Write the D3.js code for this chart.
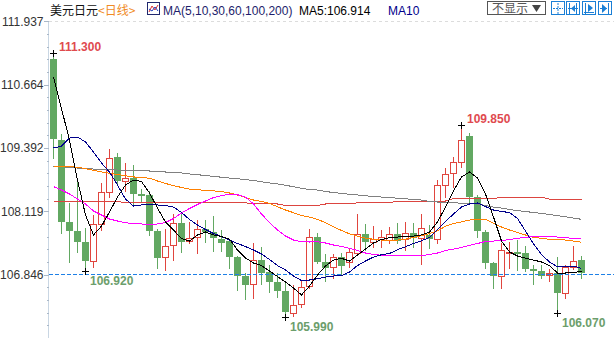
<!DOCTYPE html>
<html><head><meta charset="utf-8">
<script src="https://cdn.jsdelivr.net/npm/d3@7"></script>
<style>html,body{margin:0;padding:0;background:#fff;overflow:hidden}</style>
</head><body><svg id="c" width="614" height="338"></svg>
<script>
// ---- data ----
const categories = d3.range(67).map(i => "D" + (i + 1));
const open = [111.177,109.549,107.907,107.726,107.505,107.123,107.861,108.498,109.213,108.731,
 108.779,108.458,108.444,107.720,107.191,107.433,107.875,107.519,107.593,107.760,
 107.706,107.565,107.519,107.203,106.821,106.649,107.137,106.890,106.701,106.514,
 106.078,106.247,106.614,107.605,107.103,106.990,107.197,107.103,107.284,107.660,
 107.493,107.553,107.539,107.654,107.553,107.674,107.585,107.640,107.553,108.645,
 108.880,109.113,109.629,108.397,107.700,107.071,106.821,107.272,107.298,107.272,
 106.950,106.916,106.842,106.870,106.480,107.002,107.131];
const high = [111.300,109.664,108.277,108.711,107.774,108.042,108.679,109.368,109.282,109.081,
 109.047,108.558,108.530,107.760,107.760,108.062,108.062,107.907,107.941,107.941,
 108.021,107.740,107.539,107.210,106.870,107.473,107.392,107.037,106.870,106.695,
 106.635,106.735,107.754,107.674,107.258,107.258,107.284,107.352,108.056,107.861,
 107.820,107.740,107.806,107.875,107.907,107.875,108.062,107.841,108.745,108.980,
 109.213,109.850,109.684,108.444,107.740,107.103,107.473,107.505,107.539,107.418,
 107.037,107.037,106.950,107.203,107.037,107.418,107.217];
const low = [109.187,107.690,107.103,107.304,106.920,107.002,107.740,108.409,108.665,108.524,
 108.263,108.303,107.640,106.970,106.930,107.137,107.304,107.473,107.272,107.505,
 107.324,107.324,106.970,106.534,106.347,106.379,106.655,106.500,106.399,105.990,
 106.020,106.198,106.568,107.077,106.721,106.769,106.836,107.002,107.258,107.338,
 107.404,107.404,107.473,107.473,107.338,107.398,107.057,107.372,107.485,108.409,
 108.610,109.012,108.277,107.605,106.970,106.568,106.568,106.970,106.936,106.922,
 106.655,106.769,106.721,106.070,106.367,106.950,106.781];
const close = [109.563,107.907,107.726,107.505,107.123,107.861,108.498,109.181,108.731,108.779,
 108.458,108.433,107.726,107.183,107.412,107.875,107.505,107.573,107.760,107.706,
 107.573,107.473,107.203,106.821,106.635,107.137,106.870,106.701,106.514,106.102,
 106.233,106.588,107.605,107.103,106.982,107.197,107.022,107.292,107.654,107.493,
 107.553,107.605,107.654,107.519,107.674,107.573,107.774,107.553,108.639,108.860,
 109.101,109.543,108.397,107.726,107.083,106.821,107.338,107.298,107.272,106.956,
 106.916,106.821,106.870,106.480,106.990,107.123,106.870];
const ma5 = [110.821,110.178,109.549,108.745,108.042,107.640,107.820,108.102,108.403,108.645,
 108.745,108.715,108.484,108.182,107.901,107.740,107.569,107.519,107.640,107.700,
 107.640,107.609,107.559,107.338,107.177,107.077,107.026,106.916,106.805,106.695,
 106.574,106.434,106.614,106.836,107.016,107.137,107.171,107.117,107.238,107.358,
 107.479,107.549,107.589,107.599,107.609,107.619,107.640,107.700,107.901,108.202,
 108.524,108.805,108.906,108.785,108.464,108.001,107.519,107.298,107.217,107.177,
 107.137,107.097,107.026,106.876,106.876,106.882,106.914];
const ma10 = [109.388,109.428,109.589,109.609,109.509,109.308,109.087,108.906,108.645,108.363,
 108.222,108.243,108.243,108.243,108.232,108.202,108.092,107.951,107.841,107.750,
 107.670,107.609,107.539,107.469,107.408,107.338,107.258,107.147,107.026,106.936,
 106.815,106.725,106.735,106.761,106.795,106.815,106.821,106.896,107.026,107.117,
 107.197,107.244,107.268,107.344,107.404,107.469,107.525,107.589,107.750,107.911,
 108.062,108.202,108.263,108.283,108.212,108.142,108.112,108.092,107.971,107.720,
 107.459,107.248,107.097,107.002,107.016,107.016,106.966];
const ma30 = [108.614,108.544,108.464,108.363,108.263,108.122,108.042,107.961,107.921,107.885,
 107.871,107.861,107.851,107.861,107.891,107.971,108.082,108.172,108.253,108.323,
 108.393,108.433,108.458,108.450,108.403,108.263,108.062,107.891,107.740,107.619,
 107.539,107.503,107.499,107.503,107.479,107.439,107.408,107.372,107.328,107.278,
 107.248,107.232,107.223,107.223,107.223,107.223,107.227,107.248,107.278,107.328,
 107.358,107.388,107.433,107.469,107.509,107.519,107.529,107.549,107.573,107.595,
 107.605,107.605,107.605,107.599,107.585,107.573,107.559];
const ma60 = [109.016,109.016,109.012,109.002,108.972,108.940,108.908,108.880,108.856,108.831,
 108.807,108.795,108.781,108.725,108.677,108.630,108.596,108.560,108.550,108.538,
 108.526,108.514,108.484,108.444,108.395,108.343,108.315,108.273,108.208,108.142,
 108.088,108.031,108.001,107.955,107.887,107.806,107.730,107.664,107.619,107.579,
 107.553,107.539,107.539,107.539,107.555,107.589,107.625,107.670,107.724,107.814,
 107.871,107.905,107.941,107.961,107.961,107.875,107.800,107.740,107.690,107.640,
 107.593,107.573,107.553,107.547,107.539,107.519,107.493];
const ma100 = [109.026,109.012,109.000,108.986,108.976,108.966,108.960,108.952,108.946,108.940,
 108.934,108.930,108.926,108.916,108.906,108.896,108.886,108.866,108.852,108.835,
 108.819,108.801,108.785,108.771,108.755,108.735,108.709,108.685,108.665,108.639,
 108.610,108.578,108.554,108.544,108.514,108.494,108.474,108.458,108.444,108.429,
 108.413,108.403,108.393,108.379,108.367,108.353,108.343,108.313,108.303,108.293,
 108.287,108.279,108.273,108.263,108.232,108.202,108.182,108.152,108.132,108.112,
 108.092,108.072,108.052,108.027,108.007,107.981,107.955];
const ma200 = [108.313,108.313,108.313,108.313,108.313,108.313,108.313,108.313,108.313,108.289,
 108.289,108.289,108.289,108.289,108.289,108.289,108.289,108.289,108.289,108.289,
 108.289,108.289,108.289,108.289,108.289,108.263,108.263,108.263,108.263,108.232,
 108.232,108.232,108.232,108.232,108.263,108.263,108.263,108.263,108.289,108.289,
 108.289,108.289,108.289,108.323,108.323,108.323,108.323,108.323,108.323,108.323,
 108.373,108.373,108.373,108.373,108.373,108.373,108.397,108.397,108.397,108.397,
 108.397,108.397,108.363,108.363,108.363,108.363,108.363];
const yTicks = [111.937, 110.664, 109.392, 108.119, 106.846];
const lastPrice = 106.846;
const markHigh = [0, 51];
const markLow = [4, 29, 63];
const maNames = ["MA200","MA100","MA60","MA30","MA10","MA5"];
const maSeries = [ma200, ma100, ma60, ma30, ma10, ma5];
const maColors = ["#dc4540","#808080","#ff8000","#ff00ff","#00008b","#000000"];

// ---- drawing ----
const svg = d3.select("#c");
const x = d3.scaleLinear().domain([0, 66]).range([53, 581]);
const y = d3.scaleLinear().domain([106.846, 111.937]).range([274.5, 21.2]);
const UP = "#e0453e", DOWN = "#62a862";
const fmt = d3.format(".3f");
const latin = "'Liberation Sans', Arial, sans-serif";
const cjk = "'Noto Sans CJK SC', 'Liberation Sans', sans-serif";

// top dashed grid
svg.append("line").attr("x1", 49).attr("x2", 614).attr("y1", 21.5).attr("y2", 21.5)
  .attr("stroke", "#dcdcdc").attr("stroke-dasharray", "3,3");

// y axis
svg.append("line").attr("x1", 48.5).attr("x2", 48.5).attr("y1", 21).attr("y2", 338)
  .attr("stroke", "#c9d6e3");
const step = (yTicks[0] - yTicks[1]) / 5;
const minor = [];
for (let v = yTicks[0]; v > y.invert(338); v -= step) minor.push(v);
const gMinor = svg.append("g").attr("transform", "translate(48.5,0)")
  .call(d3.axisLeft(y).tickValues(minor).tickSize(2).tickFormat(""));
gMinor.select(".domain").remove();
gMinor.selectAll("line").attr("stroke", "#aab8c8").attr("shape-rendering", "crispEdges");
const gAxis = svg.append("g").attr("transform", "translate(48.5,0)")
  .call(d3.axisLeft(y).tickValues(yTicks).tickFormat(fmt).tickSize(5).tickPadding(0));
gAxis.select(".domain").remove();
gAxis.selectAll("line").attr("stroke", "#aab8c8").attr("shape-rendering", "crispEdges");
gAxis.selectAll("text").attr("font-family", latin).attr("font-size", 12).attr("fill", "#333");

// candles
const gC = svg.append("g");
categories.forEach((c, i) => {
  const cx = Math.round(x(i));
  const up = close[i] >= open[i];
  const yt = Math.round(y(Math.max(open[i], close[i])));
  const yb = Math.round(y(Math.min(open[i], close[i])));
  const yh = Math.round(y(high[i])), yl = Math.round(y(low[i]));
  const col = up ? UP : DOWN;
  if (up) {
    gC.append("line").attr("x1", cx + 0.5).attr("x2", cx + 0.5).attr("y1", yh).attr("y2", yt)
      .attr("stroke", col).attr("shape-rendering", "crispEdges");
    gC.append("line").attr("x1", cx + 0.5).attr("x2", cx + 0.5).attr("y1", Math.max(yb, yt + 1) + 1).attr("y2", yl + 1)
      .attr("stroke", col).attr("shape-rendering", "crispEdges");
    gC.append("rect").attr("x", cx - 2.5).attr("y", yt + 0.5).attr("width", 6)
      .attr("height", Math.max(1, yb - yt)).attr("fill", "#fff").attr("stroke", col)
      .attr("shape-rendering", "crispEdges");
  } else {
    gC.append("line").attr("x1", cx + 0.5).attr("x2", cx + 0.5).attr("y1", yh).attr("y2", yl + 1)
      .attr("stroke", col).attr("shape-rendering", "crispEdges");
    gC.append("rect").attr("x", cx - 3).attr("y", yt).attr("width", 7)
      .attr("height", Math.max(2, yb - yt)).attr("fill", col).attr("shape-rendering", "crispEdges");
  }
});

// last price dashed line
svg.append("line").attr("x1", 49).attr("x2", 614).attr("y1", Math.floor(y(lastPrice)) + 0.5)
  .attr("y2", Math.floor(y(lastPrice)) + 0.5).attr("stroke", "#1e80e6").attr("stroke-dasharray", "4,2");

// moving averages
const line = d3.line().x((d, i) => x(i) + 0.5).y(d => y(d));
maSeries.forEach((s, k) => {
  svg.append("path").datum(s).attr("d", line).attr("fill", "none")
    .attr("stroke", maColors[k]).attr("stroke-width", 1).attr("shape-rendering", "crispEdges")
    .attr("class", maNames[k]);
});

// high / low markers
function cross(cx, cy) {
  svg.append("line").attr("x1", cx - 3).attr("x2", cx + 4).attr("y1", cy + 0.5).attr("y2", cy + 0.5)
    .attr("stroke", "#000").attr("shape-rendering", "crispEdges");
  svg.append("line").attr("x1", cx + 0.5).attr("x2", cx + 0.5).attr("y1", cy - 3).attr("y2", cy + 4)
    .attr("stroke", "#000").attr("shape-rendering", "crispEdges");
}
markHigh.forEach(i => {
  const cx = Math.round(x(i)), cy = Math.round(y(high[i]));
  cross(cx, cy);
  svg.append("text").attr("x", cx + 6).attr("y", cy - 2.5).text(fmt(high[i]))
    .attr("font-family", latin).attr("font-size", 12).attr("font-weight", "bold").attr("fill", "#e04a4f");
});
markLow.forEach(i => {
  const cx = Math.round(x(i)), cy = Math.round(y(low[i]));
  cross(cx, cy);
  svg.append("text").attr("x", cx + 5).attr("y", cy + 14).text(fmt(low[i]))
    .attr("font-family", latin).attr("font-size", 12).attr("font-weight", "bold").attr("fill", "#6c9e6c");
});

// header
const t = svg.append("text").attr("x", 50).attr("y", 15).attr("font-family", cjk).attr("font-size", 12);
t.append("tspan").attr("fill", "#111").text("美元日元");
t.append("tspan").attr("fill", "#f08a24").text("<日线>");
// MA icon
const ic = svg.append("g");
ic.append("rect").attr("x", 147.5).attr("y", 2.5).attr("width", 12).attr("height", 12)
  .attr("fill", "#fff").attr("stroke", "#20286e");
ic.append("polyline").attr("points", "149,12 152,6 155,10 158,5").attr("fill", "none").attr("stroke", "#e03030");
ic.append("polyline").attr("points", "149,9 152,11 155,7 158,11").attr("fill", "none").attr("stroke", "#2040c0");
svg.append("text").attr("x", 163).attr("y", 15).attr("font-family", latin).attr("font-size", 12)
  .attr("fill", "#1d1d6b").text("MA(5,10,30,60,100,200)");
svg.append("text").attr("x", 299).attr("y", 15).attr("font-family", latin).attr("font-size", 12)
  .attr("fill", "#000").text("MA5:" + fmt(ma5[ma5.length - 1]));
svg.append("text").attr("x", 388).attr("y", 15).attr("font-family", latin).attr("font-size", 12)
  .attr("fill", "#00008b").text("MA10");

// toolbar buttons
svg.append("rect").attr("x", 487.5).attr("y", 1.5).attr("width", 58).attr("height", 13)
  .attr("fill", "#fff").attr("stroke", "#555");
svg.append("text").attr("x", 492).attr("y", 13).attr("font-family", cjk).attr("font-size", 12)
  .attr("fill", "#555").text("不显示");
svg.append("path").attr("d", "M532,5 L541,5 L536.5,12 Z").attr("fill", "#444");
const bx = [551, 566, 582, 598];
const blue = "#1a7fd6";
bx.forEach(b => svg.append("rect").attr("x", b + 0.5).attr("y", 1.5).attr("width", 13).attr("height", 13)
  .attr("fill", "#fff").attr("stroke", blue));
// icon 1: crosshair
svg.append("line").attr("x1", 553).attr("x2", 563).attr("y1", 8.5).attr("y2", 8.5).attr("stroke", blue).attr("stroke-dasharray", "2,1");
svg.append("line").attr("x1", 558).attr("x2", 558).attr("y1", 3).attr("y2", 14).attr("stroke", blue).attr("stroke-dasharray", "2,1");
// icon 2
svg.append("path").attr("d", "M569.5,3 V14 M576.5,3 V14 M568,8.5 H578").attr("stroke", blue).attr("fill", "none");
svg.append("path").attr("d", "M575,5 L571,8.5 L575,12 Z").attr("fill", blue);
// icon 3
svg.append("path").attr("d", "M585.5,3 V14 M584,12.5 H594").attr("stroke", blue).attr("fill", "none");
svg.append("path").attr("d", "M588,4 L593,8 L588,12 Z").attr("fill", blue);
// icon 4
svg.append("path").attr("d", "M608.5,3 V14 M600,8.5 H607").attr("stroke", blue).attr("fill", "none");
svg.append("path").attr("d", "M602,4 L607,8.5 L602,13 Z").attr("fill", blue);
</script></body></html>
